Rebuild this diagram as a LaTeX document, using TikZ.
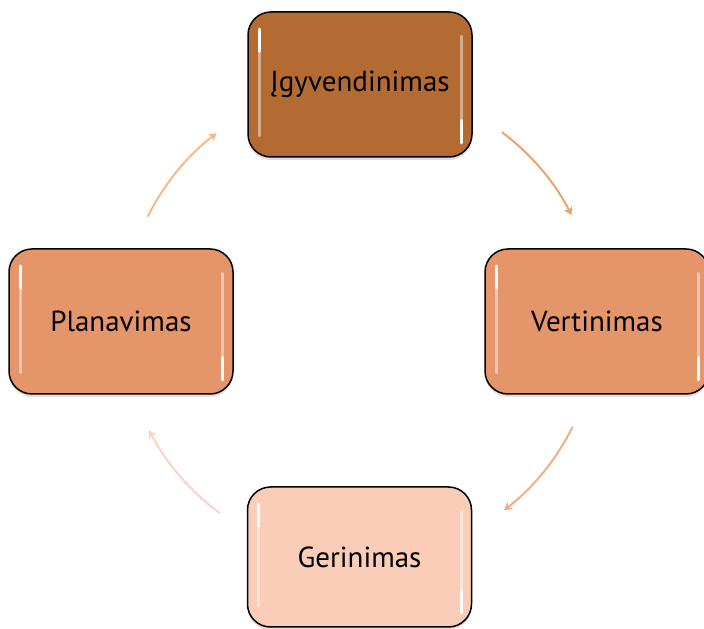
\documentclass[tikz,border=0pt]{standalone}
\usepackage{fontspec}
\setmainfont{PT Sans}
\usetikzlibrary{arrows.meta,calc,shadows}
\definecolor{topc}{RGB}{180,107,50}
\definecolor{sidec}{RGB}{228,150,106}
\definecolor{botc}{RGB}{249,205,183}
\definecolor{arA}{RGB}{245,182,138}
\definecolor{arB}{RGB}{239,160,98}
\definecolor{arC}{RGB}{243,172,128}
\definecolor{arD}{RGB}{250,210,193}
\tikzset{
  stagebox/.style={draw=black, line width=1.5pt, rounded corners=23pt,
    minimum width=224pt, minimum height=145pt, inner sep=0pt,
    font=\fontsize{29}{34}\selectfont,
    drop shadow={shadow xshift=0pt, shadow yshift=-3pt, opacity=0.25}},
  cyclearrow/.style={line width=1.9pt, -{Stealth[length=8pt,width=9pt]}},
  glossdim/.style={white, line width=3pt, opacity=0.45, line cap=round},
  glossbright/.style={white, line width=3.2pt, opacity=0.95, line cap=round}
}
\newcommand{\glossmark}[1]{%
  \draw[glossdim] ($(#1.north west)+(12,-18)$) -- ($(#1.south west)+(12,22)$);
  \draw[glossbright] ($(#1.north west)+(12,-18)$) -- ($(#1.north west)+(12,-40)$);
  \draw[glossdim] ($(#1.north east)+(-11,-25)$) -- ($(#1.south east)+(-11,15)$);
  \draw[glossbright] ($(#1.south east)+(-11,15)$) -- ($(#1.south east)+(-11,37)$);
}
\begin{document}
\begin{tikzpicture}[x=1pt,y=1pt]
\useasboundingbox (0,0) rectangle (704,629);
\node[stagebox, fill=topc] (impl) at (360,544.5) {Įgyvendinimas};
\node[stagebox, fill=sidec] (eval) at (597,307.5) {Vertinimas};
\node[stagebox, fill=botc, minimum height=140pt] (impr) at (359.5,72) {Gerinimas};
\node[stagebox, fill=sidec] (plan) at (121,307.5) {Planavimas};
\glossmark{impl}
\glossmark{eval}
\glossmark{impr}
\glossmark{plan}
\coordinate (c) at (360,307);
\coordinate (a1) at ($(c)+(153.6:237)$);
\coordinate (a2) at ($(c)+(53.2:237)$);
\coordinate (a3) at ($(c)+(-26.2:237)$);
\coordinate (a4) at ($(c)+(-126.3:237)$);
\draw[cyclearrow, arA] (a1) arc[start angle=153.6, end angle=127.2, radius=237];
\draw[cyclearrow, arB] (a2) arc[start angle=53.2, end angle=26.8, radius=237];
\draw[cyclearrow, arC] (a3) arc[start angle=-26.2, end angle=-52.6, radius=237];
\draw[cyclearrow, arD] (a4) arc[start angle=-126.3, end angle=-152.8, radius=237];
\end{tikzpicture}
\end{document}
